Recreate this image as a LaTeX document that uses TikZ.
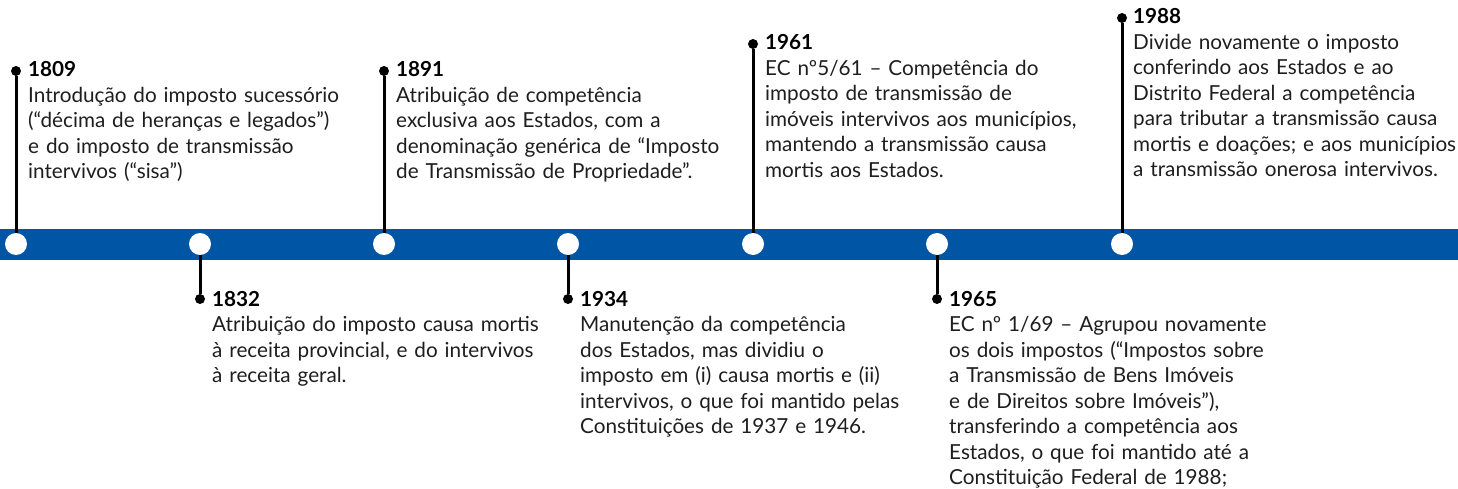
\documentclass[tikz,border=0pt]{standalone}
\usepackage{fontspec}
\setmainfont{Lato}
\definecolor{bandblue}{RGB}{0,85,165}
\definecolor{txtgray}{RGB}{30,30,30}
\tikzset{
  stop/.style={circle,fill=white,inner sep=0pt,minimum size=22pt},
  pindot/.style={circle,fill=black,inner sep=0pt,minimum size=10pt},
  stem/.style={draw=black,line width=3pt},
  entry/.style={anchor=base west,inner sep=0pt,align=left,text width=360pt,
    text=txtgray,font=\fontsize{20.7}{25.5}\selectfont}
}
\begin{document}
\begin{tikzpicture}[x=1pt,y=-1pt]
      \useasboundingbox (0,0) rectangle (1458,489);
      \fill[bandblue] (0,229) rectangle (1458,260);
      \draw
        (16,244) node[stop] (s1809){}
        (200,244) node[stop] (s1832){}
        (384,244) node[stop] (s1891){}
        (568,244) node[stop] (s1934){}
        (753,244) node[stop] (s1961){}
        (937,244) node[stop] (s1965){}
        (1122,244) node[stop] (s1988){};
      \draw
        (16,71) node[pindot] (d1809){}
        (200,299) node[pindot] (d1832){}
        (384,71) node[pindot] (d1891){}
        (568,299) node[pindot] (d1934){}
        (753,44) node[pindot] (d1961){}
        (937,299) node[pindot] (d1965){}
        (1122,18) node[pindot] (d1988){};
      \begin{scope}[stem]
        \draw (s1809) to (d1809);
        \draw (s1832) to (d1832);
        \draw (s1891) to (d1891);
        \draw (s1934) to (d1934);
        \draw (s1961) to (d1961);
        \draw (s1965) to (d1965);
        \draw (s1988) to (d1988);
      \end{scope}
      \draw
        (28,77) node[entry] (t1809){\textbf{\color{black}1809}\\
          Introdução do imposto sucessório\\
          (“décima de heranças e legados”)\\
          e do imposto de transmissão\\
          intervivos (“sisa”)}
        (212,306) node[entry] (t1832){\textbf{\color{black}1832}\\
          Atribuição do imposto causa mortis\\
          à receita provincial, e do intervivos\\
          à receita geral.}
        (396,77) node[entry] (t1891){\textbf{\color{black}1891}\\
          Atribuição de competência\\
          exclusiva aos Estados, com a\\
          denominação genérica de “Imposto\\
          de Transmissão de Propriedade”.}
        (580,306) node[entry] (t1934){\textbf{\color{black}1934}\\
          Manutenção da competência\\
          dos Estados, mas dividiu o\\
          imposto em (i) causa mortis e (ii)\\
          intervivos, o que foi mantido pelas\\
          Constituições de 1937 e 1946.}
        (765,50) node[entry] (t1961){\textbf{\color{black}1961}\\
          EC nº5/61 – Competência do\\
          imposto de transmissão de\\
          imóveis intervivos aos municípios,\\
          mantendo a transmissão causa\\
          mortis aos Estados.}
        (949,306) node[entry] (t1965){\textbf{\color{black}1965}\\
          EC nº 1/69 – Agrupou novamente\\
          os dois impostos (“Impostos sobre\\
          a Transmissão de Bens Imóveis\\
          e de Direitos sobre Imóveis”),\\
          transferindo a competência aos\\
          Estados, o que foi mantido até a\\
          Constituição Federal de 1988;}
        (1133,24) node[entry] (t1988){\textbf{\color{black}1988}\\
          Divide novamente o imposto\\
          conferindo aos Estados e ao\\
          Distrito Federal a competência\\
          para tributar a transmissão causa\\
          mortis e doações; e aos municípios\\
          a transmissão onerosa intervivos.};
    \end{tikzpicture}
\end{document}
